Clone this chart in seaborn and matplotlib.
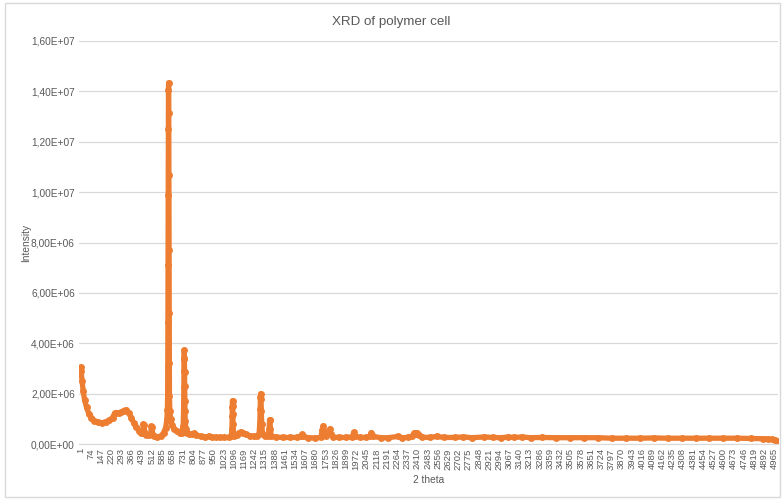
import numpy as np
import pandas as pd
import seaborn as sns
import matplotlib.pyplot as plt
from matplotlib.patches import Rectangle
from matplotlib.ticker import FuncFormatter

# data (index along the scan, intensity in millions)
scan_index = [
    1, 5, 12, 20, 30, 44, 60, 79, 100, 125, 151, 180, 208, 230, 245, 257,
    275, 293, 310, 329, 345, 364, 380, 400, 420, 435, 445, 450, 455, 462,
    471, 490, 503, 507, 512, 518, 528, 550, 578, 595, 610, 618, 622, 624,
    625, 626, 627, 628, 629, 630, 631, 632, 633, 634, 635, 636, 637, 640,
    645, 655, 670, 690, 710, 725, 735, 738, 740, 741, 742, 743, 744, 745,
    746, 747, 748, 750, 755, 765, 780, 800, 813, 830, 860, 890, 920, 940,
    970, 1000, 1030, 1060, 1080, 1084, 1086, 1087, 1088, 1089, 1090, 1092,
    1095, 1100, 1120, 1135, 1148, 1165, 1185, 1210, 1240, 1265, 1278, 1283,
    1286, 1288, 1290, 1292, 1294, 1297, 1303, 1320, 1345, 1350, 1353, 1356,
    1359, 1365, 1400, 1450, 1500, 1550, 1580, 1587, 1595, 1630, 1680, 1720,
    1730, 1737, 1744, 1760, 1775, 1784, 1792, 1810, 1850, 1900, 1945, 1955,
    1965, 2000, 2040, 2070, 2081, 2092, 2150, 2200, 2273, 2300, 2340, 2375,
    2385, 2394, 2402, 2410, 2420, 2440, 2500, 2550, 2600, 2680, 2740, 2800,
    2890, 2950, 3010, 3060, 3100, 3160, 3220, 3300, 3400, 3500, 3600, 3700,
    3800, 3900, 4000, 4100, 4200, 4300, 4400, 4500, 4600, 4700, 4800, 4880,
    4920, 4950, 4970, 4980,
]
intensity_m = [
    3.05, 2.9, 2.5, 2.1, 1.75, 1.45, 1.2, 1.05, 0.93, 0.86, 0.84, 0.88, 0.95,
    1.05, 1.22, 1.25, 1.22, 1.27, 1.33, 1.36, 1.25, 1.05, 0.85, 0.66, 0.52,
    0.44, 0.42, 0.78, 0.75, 0.42, 0.36, 0.35, 0.4, 0.7, 0.68, 0.35, 0.3,
    0.28, 0.32, 0.45, 0.65, 0.95, 1.35, 1.9, 3.0, 4.83, 7.11, 9.87, 12.49,
    14.05, 14.34, 13.13, 10.68, 7.70, 5.19, 3.2, 1.9, 1.3, 1.0, 0.75, 0.6,
    0.5, 0.45, 0.45, 0.7, 1.3, 2.27, 2.9, 3.37, 3.73, 3.4, 2.85, 2.3, 1.72,
    1.3, 0.9, 0.6, 0.45, 0.4, 0.38, 0.42, 0.35, 0.3, 0.28, 0.3, 0.27, 0.26,
    0.26, 0.26, 0.26, 0.3, 0.6, 1.1, 1.45, 1.72, 1.5, 1.2, 0.8, 0.45, 0.32,
    0.35, 0.45, 0.48, 0.44, 0.38, 0.33, 0.3, 0.3, 0.4, 0.8, 1.4, 1.85, 2.0,
    1.8, 1.3, 0.8, 0.4, 0.3, 0.3, 0.6, 0.95, 0.97, 0.6, 0.3, 0.27, 0.26,
    0.26, 0.26, 0.3, 0.38, 0.3, 0.25, 0.24, 0.26, 0.55, 0.72, 0.5, 0.3,
    0.45, 0.6, 0.4, 0.27, 0.26, 0.26, 0.28, 0.46, 0.3, 0.26, 0.26, 0.3,
    0.45, 0.3, 0.25, 0.25, 0.3, 0.25, 0.26, 0.3, 0.42, 0.42, 0.4, 0.43,
    0.35, 0.27, 0.26, 0.3, 0.26, 0.26, 0.28, 0.25, 0.28, 0.26, 0.25, 0.28,
    0.26, 0.28, 0.25, 0.26, 0.25, 0.25, 0.25, 0.25, 0.23, 0.23, 0.23, 0.24,
    0.23, 0.23, 0.23, 0.23, 0.23, 0.23, 0.22, 0.21, 0.2, 0.18, 0.15, 0.13,
]
x_ticks = list(range(1, 4966, 73))
y_ticks = [0, 2e6, 4e6, 6e6, 8e6, 1e7, 1.2e7, 1.4e7, 1.6e7]

TEXT = '#595959'
ORANGE = '#ED7D31'

sns.set_style('white')
plt.rcParams['font.family'] = ['Liberation Sans', 'DejaVu Sans']

df = pd.DataFrame({'2 theta': scan_index,
                   'Intensity': np.array(intensity_m) * 1e6})

fig = plt.figure(figsize=(7.82, 4.99), dpi=100)
ax = fig.add_axes([79 / 782, 1 - 444 / 499, 699 / 782, 403 / 499])

sns.lineplot(data=df, x='2 theta', y='Intensity', ax=ax, color=ORANGE,
             linewidth=3.8, marker='o', markersize=5,
             markeredgewidth=0, sort=False)

ax.set_xlim(-10, 4990)
ax.set_ylim(0, 1.6e7)
ax.set_yticks(y_ticks)
ax.yaxis.set_major_formatter(
    FuncFormatter(lambda v, p: f'{v:.2E}'.replace('.', ',')))
ax.set_xticks(x_ticks)
ax.set_xticklabels([str(t) for t in x_ticks], rotation=90)
ax.tick_params(axis='y', length=0, labelsize=7.3, colors=TEXT, pad=3)
ax.tick_params(axis='x', length=0, labelsize=6.8, colors=TEXT, pad=3)
ax.grid(axis='y', color='#D9D9D9', linewidth=0.9)
ax.set_axisbelow(True)
for side in ['top', 'right', 'left']:
    ax.spines[side].set_visible(False)
ax.spines['bottom'].set_color('#D9D9D9')

ax.set_xlabel('2 theta', fontsize=7.3, color=TEXT, labelpad=4)
ax.set_ylabel('Intensity', fontsize=7.3, color=TEXT)
ax.yaxis.set_label_coords(-48 / 699, 0.5)
fig.text(0.5, 1 - 22 / 499, 'XRD of polymer cell', ha='center',
         va='center', fontsize=9.6, color=TEXT)

fig.patches.append(Rectangle((5 / 782, 2 / 499), 775 / 782, 494 / 499,
                             transform=fig.transFigure, fill=False,
                             edgecolor='#D9D9D9', linewidth=1))

fig.savefig('out.png', dpi=100)
